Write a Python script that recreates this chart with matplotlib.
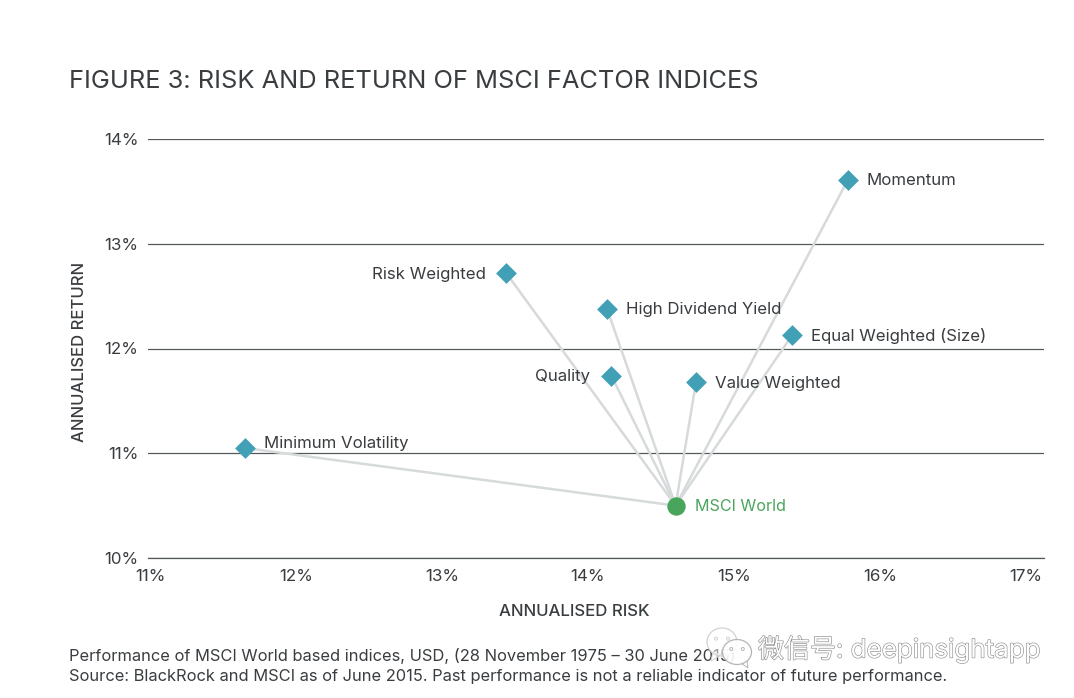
import matplotlib
matplotlib.use('Agg')
import matplotlib.pyplot as plt
import matplotlib.patheffects as pe
from matplotlib.patches import Ellipse, Polygon

plt.rcParams['font.family'] = ['Inter', 'Noto Sans CJK SC', 'DejaVu Sans']

NAMES = ['Momentum', 'Risk Weighted', 'High Dividend Yield', 'Equal Weighted (Size)',
         'Quality', 'Value Weighted', 'Minimum Volatility']
RISK = [15.78, 13.44, 14.13, 15.40, 14.16, 14.74, 11.65]
RETURN = [13.61, 12.72, 12.38, 12.13, 11.74, 11.68, 11.05]
LABEL_SIDE = ['right', 'left', 'right', 'right', 'left', 'right', 'right']
WORLD_RISK = 14.60
WORLD_RETURN = 10.50
X_TICKS = [11, 12, 13, 14, 15, 16, 17]
Y_TICKS = [10, 11, 12, 13, 14]

TEXT = '#3a3d40'
GREEN = '#4aa55c'


def to_fig(px, py):
    # pixels from the top left corner of the figure
    return px / 1074, 1 - py / 698


def speech_bubble(fig, cx, cy, w, h, tail, alpha, edge):
    fig.add_artist(Polygon([to_fig(*p) for p in tail], closed=True, transform=fig.transFigure,
                           facecolor=(1, 1, 1, alpha), edgecolor=edge, lw=0.7, zorder=10))
    fig.add_artist(Ellipse(to_fig(cx, cy), w / 1074, h / 698, transform=fig.transFigure,
                           facecolor=(1, 1, 1, alpha), edgecolor=edge, lw=0.9, zorder=10))
    for dx in (-w * 0.2, w * 0.2):
        fig.add_artist(Ellipse(to_fig(cx + dx, cy - h * 0.12), 3 / 1074, 3 / 698,
                               transform=fig.transFigure, facecolor='white',
                               edgecolor=edge, lw=0.7, zorder=11))


def create_plot():
    fig = plt.figure(figsize=(10.74, 6.98), dpi=100)
    ax = fig.add_axes([148 / 1074, 1 - 558 / 698, (1044 - 148) / 1074, (558 - 139) / 698])
    ax.set_xlim(11 - 2 / 146, 11 + 894 / 146)
    ax.set_ylim(10, 14)

    for x, y in zip(RISK, RETURN):
        ax.plot([WORLD_RISK, x], [WORLD_RETURN, y], color='#d6dadb', lw=1.8, zorder=2)
    ax.scatter(RISK, RETURN, marker='D', s=112, color='#41a0b6', linewidths=0, zorder=3, clip_on=False)
    ax.scatter([WORLD_RISK], [WORLD_RETURN], marker='o', s=175, color=GREEN, linewidths=0, zorder=3)

    for name, x, y, side in zip(NAMES, RISK, RETURN, LABEL_SIDE):
        dx = 13.5 if side == 'right' else -15
        dy = 3.5 if name == 'Minimum Volatility' else -0.8
        ax.annotate(name, (x, y), xytext=(dx, dy), textcoords='offset points',
                    ha='left' if side == 'right' else 'right', va='center',
                    fontsize=12.1, color=TEXT, zorder=4)
    ax.annotate('MSCI World', (WORLD_RISK, WORLD_RETURN), xytext=(14, -0.5),
                textcoords='offset points', va='center', fontsize=11.6, color=GREEN)

    ax.set_xticks(X_TICKS)
    ax.set_xticklabels([f'{v}%' for v in X_TICKS])
    ax.set_yticks(Y_TICKS)
    ax.set_yticklabels([f'{v}%' for v in Y_TICKS])
    ax.tick_params(length=0, labelsize=12.2, labelcolor=TEXT, pad=7)
    ax.tick_params(axis='x', pad=8)
    ax.grid(True, axis='y', color='#55585a', lw=0.9)
    ax.set_axisbelow(True)
    for side in ['top', 'left', 'right']:
        ax.spines[side].set_visible(False)
    ax.spines['bottom'].set_color('#55585a')
    ax.spines['bottom'].set_linewidth(0.9)

    fig.text(574 / 1074, 1 - 611 / 698, 'ANNUALISED RISK', fontsize=12.1, color=TEXT,
             ha='center', va='center', fontweight='medium')
    fig.text(79 / 1074, 1 - 352 / 698, 'ANNUALISED RETURN', fontsize=12, color=TEXT,
             ha='center', va='center', rotation=90, fontweight='medium')

    fig.text(69 / 1074, 1 - 81 / 698, 'FIGURE 3: RISK AND RETURN OF MSCI FACTOR INDICES',
             fontsize=18.3, color=TEXT, va='center')
    fig.text(69 / 1074, 1 - 656 / 698, 'Performance of MSCI World based indices, USD, (28 November 1975 – 30 June 2015)',
             fontsize=11.85, color=TEXT, va='center')
    fig.text(69 / 1074, 1 - 676 / 698, 'Source: BlackRock and MSCI as of June 2015. Past performance is not a reliable indicator of future performance.',
             fontsize=11.85, color=TEXT, va='center')

    # watermark
    mark = fig.text(758 / 1074, 1 - 649 / 698, '微信号: deepinsightapp', fontsize=18.7,
                    color='white', va='center', zorder=10)
    mark.set_path_effects([pe.withStroke(linewidth=0.9, foreground='#8f8f8f')])
    speech_bubble(fig, 722, 642, 30, 28, [(713, 652), (711, 661), (721, 655)], 0.5, '#d2d2d2')
    speech_bubble(fig, 737, 652, 29, 25, [(741, 663), (748, 668), (747, 660)], 0.9, '#b5b5b5')

    fig.savefig('out.png', dpi=100)


create_plot()
